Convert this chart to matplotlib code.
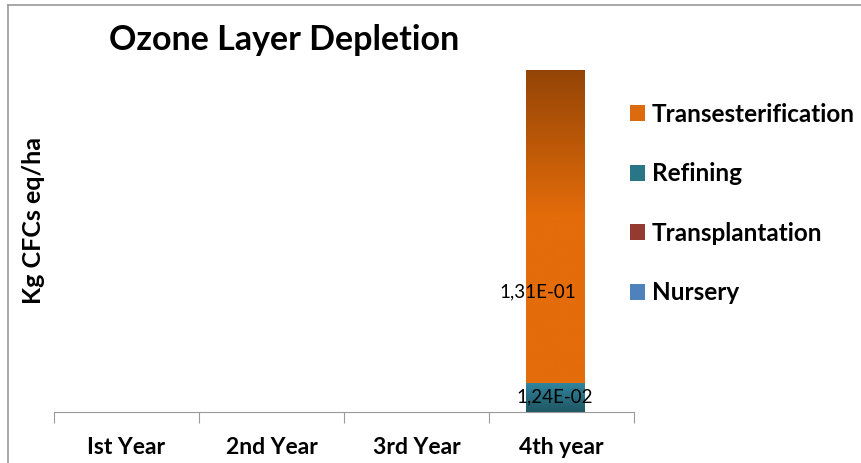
import matplotlib.pyplot as plt
import numpy as np
from matplotlib.colors import LinearSegmentedColormap
from matplotlib.patches import Patch
from matplotlib.lines import Line2D

plt.rcParams['font.family'] = ['Lato', 'DejaVu Sans']

## ozone layer depletion, kg CFCs eq/ha per year of the crop
years = ['Ist Year', '2nd Year', '3rd Year', '4th year']
nursery = [0, 0, 0, 0]
transplantation = [0, 0, 0, 0]
refining = [0, 0, 0, 0.0124]
transesterification = [0, 0, 0, 0.131]

fig = plt.figure(figsize=(8.61, 4.63), dpi=100)
ax = fig.add_axes([0.0627, 0.110, 0.6737, 0.760])

x = np.arange(len(years)) - 0.045
w = 0.4
# (top colour, bottom colour) for the gradients
grads = {
    'Nursery': ('#4F81BD', '#4F81BD'),
    'Transplantation': ('#A0521A', '#943634'),
    'Refining': ('#31869F', '#1F5663'),
    'Transesterification': ('#944506', '#E46C0A'),
}
legend_cols = {'Nursery': '#4F81BD', 'Transplantation': '#953A30',
               'Refining': '#2A7586', 'Transesterification': '#DD6A0C'}

def grad_bar(bars, name, mid=0.5):
    top, bot = grads[name]
    cmap = LinearSegmentedColormap.from_list(name, [(0, bot), (mid, bot), (1, top)])
    for b in bars:
        h = b.get_height()
        if h <= 0:
            continue
        x0, y0 = b.get_x(), b.get_y()
        img = ax.imshow(np.linspace(0, 1, 256).reshape(-1, 1), cmap=cmap, origin='lower',
                        extent=[x0, x0 + b.get_width(), y0, y0 + h], aspect='auto', zorder=2)
        img.set_clip_path(b)

bottom = np.zeros(len(years))
b1 = ax.bar(x, nursery, w, bottom=bottom, color='none', zorder=2)
grad_bar(b1, 'Nursery')
bottom += nursery
b2 = ax.bar(x, transplantation, w, bottom=bottom, color='none', zorder=2)
grad_bar(b2, 'Transplantation')
bottom += transplantation
b3 = ax.bar(x, refining, w, bottom=bottom, color='none', zorder=2)
grad_bar(b3, 'Refining', mid=0.0)
bottom += refining
b4 = ax.bar(x, transesterification, w, bottom=bottom, color='none', zorder=2)
grad_bar(b4, 'Transesterification', mid=0.53)

def fmt(v):
    return f'{v:.2E}'.replace('.', ',')

ax.text(x[3], refining[3] / 2, fmt(refining[3]), ha='center', va='center', fontsize=13.5, zorder=3)
ax.text(x[3] - 0.12, 0.0503, fmt(transesterification[3]), ha='center', va='center', fontsize=13.5, zorder=3)

ax.set_xlim(-0.5, 3.5)
ax.set_ylim(0, 0.1476)
ax.set_yticks([])
for s in ['top', 'right', 'left']:
    ax.spines[s].set_visible(False)
ax.spines['bottom'].set_color('#9A9A9A')
ax.set_xticks(np.arange(-0.5, 4, 1))
ax.set_xticklabels([])
ax.set_xticks(np.arange(len(years)), minor=True)
ax.set_xticklabels(years, minor=True, fontsize=16.5, fontweight='bold')
ax.tick_params(axis='x', which='major', length=8, color='#9A9A9A')
ax.tick_params(axis='x', which='minor', length=0, pad=18)

fig.text(0.039, 0.523, 'Kg CFCs eq/ha', rotation=90, ha='center', va='center',
         fontsize=18, fontweight='bold')
fig.text(0.330, 0.914, 'Ozone Layer Depletion', ha='center', va='center',
         fontsize=24.5, fontweight='bold')

names = ['Transesterification', 'Refining', 'Transplantation', 'Nursery']
handles = [Patch(facecolor=legend_cols[n]) for n in names]
fig.legend(handles, names,
           loc='upper left', bbox_to_anchor=(0.706, 0.825), frameon=False,
           prop={'size': 17.5, 'weight': 'bold'}, labelspacing=1.5,
           handlelength=0.62, handleheight=0.62, handletextpad=0.3)

# outer chart frame
fig.add_artist(Line2D([8 / 861, 8 / 861], [0, 1 - 5 / 463], color='#9A9A9A', lw=1.2))
fig.add_artist(Line2D([8 / 861, 1], [1 - 5 / 463, 1 - 5 / 463], color='#9A9A9A', lw=1.2))

fig.savefig('out.png', dpi=100)
